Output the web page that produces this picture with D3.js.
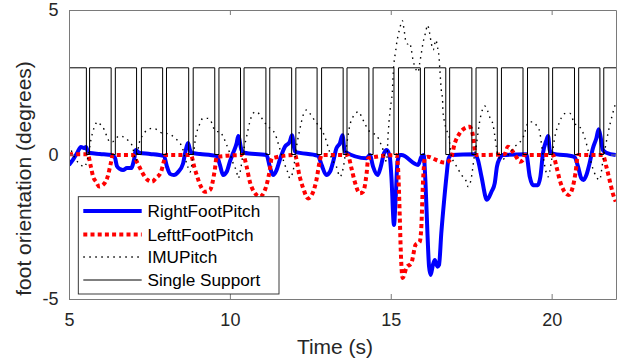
<!DOCTYPE html>
<html>
<head>
<meta charset="utf-8">
<script src="https://cdn.jsdelivr.net/npm/d3@7"></script>
<style>
  html, body { margin: 0; padding: 0; background: #fff; }
  svg { display: block; font-family: "Liberation Sans", Arial, Helvetica, sans-serif; }
</style>
</head>
<body>
<svg id="chart" width="627" height="364"></svg>
<script>
// Axis ticks
const xTicks = [5, 10, 15, 20];
const yTicks = [-5, 0, 5];
const yTickLabels = ["-5", "0", "5"];
const seriesNames = ["RightFootPitch", "LefttFootPitch", "IMUPitch", "Single Support"];

// Foot and IMU pitch, [time (s), degrees]
const rightFootPitch = [
  [5.00,-0.36],[5.12,-0.19],[5.25,0.05],[5.37,0.26],[5.47,0.22],[5.53,0.26],[5.59,0.09],[5.65,0.05],
  [5.96,0.02],[6.34,-0.02],[6.43,-0.12],[6.49,-0.40],[6.58,-0.50],[6.68,-0.54],[6.80,-0.47],[6.93,-0.47],
  [7.02,-0.19],[7.08,0.16],[7.14,0.09],[7.20,0.05],[7.52,0.02],[7.95,-0.05],[8.04,-0.40],[8.14,-0.67],
  [8.26,-0.71],[8.39,-0.61],[8.54,-0.33],[8.63,0.16],[8.70,0.40],[8.76,0.16],[8.82,0.05],[9.07,0.02],
  [9.59,-0.05],[9.69,-0.36],[9.79,-0.71],[9.90,-0.60],[10.00,-0.25],[10.10,0.05],[10.21,0.39],[10.26,0.64],
  [10.36,0.16],[10.44,0.06],[11.14,-0.02],[11.24,-0.42],[11.34,-0.71],[11.45,-0.54],[11.55,-0.19],[11.71,0.27],
  [11.86,0.44],[11.93,0.67],[12.02,0.10],[12.74,-0.05],[12.85,-0.36],[13.00,-0.71],[13.11,-0.60],[13.21,-0.25],
  [13.31,0.21],[13.42,0.39],[13.50,0.67],[13.57,0.10],[14.25,-0.13],[14.35,-0.02],[14.45,-0.42],[14.59,-0.71],
  [14.69,-0.42],[14.79,0.04],[14.87,0.16],[14.97,-0.08],[15.02,-0.77],[15.10,-2.44],[15.15,-1.57],[15.21,-0.25],
  [15.28,-0.02],[15.33,-0.02],[15.85,-0.36],[15.95,-0.08],[16.02,-0.02],[16.08,-1.00],[16.14,-2.73],[16.19,-3.88],
  [16.24,-4.17],[16.31,-3.82],[16.37,-3.65],[16.45,-3.88],[16.50,-3.82],[16.57,-2.73],[16.66,-1.57],[16.73,-0.77],
  [16.80,-0.13],[16.89,-0.02],[17.61,0.01],[17.71,-0.19],[17.82,-0.77],[17.99,-1.57],[18.13,-1.29],[18.23,-1.00],
  [18.30,-0.42],[18.39,-0.13],[18.49,-0.02],[19.21,0.01],[19.32,-0.77],[19.42,-1.06],[19.57,-1.06],[19.65,-0.77],
  [19.73,0.04],[19.84,0.50],[19.89,0.64],[19.94,0.16],[20.01,0.04],[20.71,-0.08],[20.82,-0.42],[20.92,-0.82],
  [20.99,-0.88],[21.08,-0.71],[21.18,-0.30],[21.28,0.21],[21.39,0.56],[21.46,0.87],[21.52,0.62],[21.59,0.16],
  [21.70,0.06],[21.99,-0.02]
];

const leftFootPitch = [
  [5.00,0.01],[5.58,0.01],[5.68,-0.42],[5.75,-0.77],[5.84,-0.94],[5.94,-1.11],[6.05,-1.06],[6.20,-0.77],
  [6.30,-0.30],[6.36,-0.02],[6.98,-0.02],[7.13,-0.30],[7.29,-0.65],[7.44,-0.88],[7.58,-0.94],[7.70,-0.82],
  [7.86,-0.60],[7.96,-0.19],[8.01,-0.02],[8.79,-0.02],[8.89,-0.42],[9.00,-0.82],[9.10,-1.11],[9.22,-1.29],
  [9.38,-1.23],[9.53,-0.54],[9.59,-0.08],[10.41,-0.02],[10.52,-0.42],[10.62,-0.94],[10.78,-1.34],[10.93,-1.46],
  [11.09,-1.23],[11.24,-0.54],[11.30,-0.13],[12.02,-0.02],[12.17,-0.77],[12.28,-1.17],[12.43,-1.52],[12.59,-1.29],
  [12.69,-0.88],[12.80,-0.19],[12.85,-0.02],[13.66,-0.02],[13.78,-0.48],[13.88,-0.94],[14.04,-1.34],[14.14,-1.29],
  [14.25,-0.65],[14.30,-0.13],[15.18,-0.02],[15.23,-0.54],[15.28,-2.15],[15.31,-3.30],[15.37,-4.27],[15.49,-3.91],
  [15.64,-3.76],[15.77,-3.13],[15.90,-3.02],[15.95,-2.50],[16.00,-1.00],[16.06,-0.13],[16.16,-0.08],[16.42,-0.19],
  [16.68,-0.28],[16.86,-0.17],[16.99,0.39],[17.14,0.73],[17.30,0.91],[17.45,0.96],[17.56,0.62],[17.61,0.16],
  [17.66,-0.02],[18.54,0.01],[18.64,0.27],[18.75,0.16],[18.90,-0.08],[19.01,-0.25],[19.11,-0.19],[19.16,-0.02],
  [20.04,-0.02],[20.15,-0.42],[20.25,-0.88],[20.40,-1.29],[20.53,-1.40],[20.66,-1.11],[20.74,-0.65],[20.82,-0.02],
  [21.59,-0.02],[21.70,-0.42],[21.80,-0.88],[21.90,-1.34],[21.99,-1.63]
];

const imuPitch = [
  [5.00,0.33],[5.09,0.09],[5.22,-0.19],[5.34,-0.33],[5.47,-0.43],[5.58,-0.13],[5.68,0.50],[5.79,0.96],
  [5.89,1.13],[5.99,1.02],[6.10,0.85],[6.20,0.56],[6.27,0.43],[6.36,0.44],[6.46,0.56],[6.56,0.64],
  [6.67,0.62],[6.77,0.56],[6.87,0.44],[6.98,0.26],[7.03,-0.05],[7.08,-0.22],[7.18,0.39],[7.29,0.67],
  [7.44,0.85],[7.60,0.91],[7.75,0.85],[7.91,0.73],[8.01,0.73],[8.11,0.71],[8.22,0.64],[8.32,0.54],
  [8.43,0.43],[8.53,0.21],[8.60,-0.09],[8.69,-0.42],[8.76,-0.61],[8.84,-0.19],[8.94,0.62],[9.05,1.02],
  [9.16,1.25],[9.31,1.25],[9.41,1.16],[9.48,0.95],[9.59,0.79],[9.69,0.79],[9.79,0.62],[9.90,0.33],
  [10.00,0.04],[10.10,-0.30],[10.21,-0.60],[10.26,-0.82],[10.34,-0.48],[10.41,0.04],[10.52,0.62],[10.62,1.13],
  [10.72,1.43],[10.83,1.48],[10.93,1.37],[11.03,1.19],[11.14,1.02],[11.30,0.85],[11.40,0.73],[11.50,0.39],
  [11.61,-0.02],[11.71,-0.36],[11.81,-0.65],[11.86,-0.82],[11.97,-0.54],[12.07,0.27],[12.17,0.85],[12.28,1.37],
  [12.38,1.54],[12.48,1.43],[12.59,1.25],[12.74,1.02],[12.85,0.85],[12.95,0.62],[13.05,0.27],[13.16,-0.13],
  [13.31,-0.42],[13.42,-0.77],[13.52,-0.48],[13.62,0.27],[13.73,1.02],[13.83,1.31],[13.93,1.45],[14.01,1.48],
  [14.09,1.31],[14.19,1.08],[14.30,0.85],[14.45,0.73],[14.56,0.67],[14.66,0.44],[14.76,0.16],[14.81,-0.08],
  [14.87,-0.25],[14.92,0.73],[14.97,1.43],[15.02,1.89],[15.05,2.17],[15.07,2.69],[15.10,3.16],[15.15,3.56],
  [15.19,3.90],[15.23,4.13],[15.28,4.37],[15.33,4.56],[15.36,4.63],[15.40,4.42],[15.43,4.19],[15.48,3.85],
  [15.54,3.82],[15.59,3.86],[15.64,3.62],[15.69,3.27],[15.75,3.04],[15.85,2.85],[15.90,3.16],[15.95,3.50],
  [16.00,3.85],[16.09,4.25],[16.14,4.48],[16.21,4.19],[16.26,3.85],[16.32,3.62],[16.40,3.96],[16.45,3.73],
  [16.50,3.38],[16.52,3.04],[16.54,2.69],[16.57,2.23],[16.61,1.89],[16.62,1.54],[16.68,1.08],[16.73,0.85],
  [16.81,0.67],[16.83,0.39],[16.89,-0.08],[16.99,-0.30],[17.09,-0.50],[17.20,-0.71],[17.35,-0.94],[17.40,-1.11],
  [17.48,-0.94],[17.54,-0.54],[17.58,-0.19],[17.66,0.33],[17.71,0.74],[17.76,1.12],[17.82,1.44],[17.92,1.68],
  [18.02,1.48],[18.07,1.31],[18.18,1.02],[18.23,0.67],[18.28,0.27],[18.33,-0.02],[18.44,-0.19],[18.54,-0.13],
  [18.64,-0.02],[18.85,0.27],[19.06,0.50],[19.16,0.73],[19.21,0.96],[19.32,1.13],[19.42,1.13],[19.52,1.02],
  [19.63,0.79],[19.68,0.39],[19.73,-0.02],[19.78,-0.36],[19.89,-0.77],[19.99,-0.25],[20.09,0.56],[20.25,1.13],
  [20.35,1.37],[20.46,1.43],[20.56,1.43],[20.71,1.08],[20.87,0.96],[21.02,0.62],[21.13,0.16],[21.28,-0.48],
  [21.49,-0.88],[21.59,-0.25],[21.75,0.73],[21.90,1.43],[21.99,1.78]
];

// Single support phases: signal is 3 while on one foot, 0 during double support
const supportLevel = 3;
const ssFall = [5.54, 6.31, 7.10, 7.91, 8.72, 9.53, 10.33, 11.12, 11.92, 12.71, 13.52,
                14.32, 15.10, 15.92, 16.71, 17.52, 18.31, 19.11, 19.91, 20.71, 21.50];
const ssRise = [5.64, 6.44, 7.25, 8.03, 8.86, 9.66, 10.44, 11.24, 12.05, 12.85, 13.64,
                14.45, 15.24, 16.05, 16.83, 17.65, 18.44, 19.25, 20.03, 20.84, 21.62];

// ---- layout ----
const plot = { left: 69, top: 10, right: 616, bottom: 299 };
const ink = "#262626";

const x = d3.scaleLinear().domain([5, 22]).range([plot.left, plot.right]);
const y = d3.scaleLinear().domain([-5, 5]).range([plot.bottom, plot.top]);

const svg = d3.select("#chart");
svg.append("rect").attr("width", 627).attr("height", 364).attr("fill", "#fff");

svg.append("defs").append("clipPath").attr("id", "plot-clip")
  .append("rect")
  .attr("x", plot.left).attr("y", plot.top)
  .attr("width", plot.right - plot.left).attr("height", plot.bottom - plot.top);

// Build the square wave from the phase boundaries
const supportSignal = [[5, supportLevel]];
ssFall.forEach((tf, i) => {
  supportSignal.push([tf, supportLevel], [tf, 0], [ssRise[i], 0], [ssRise[i], supportLevel]);
});
supportSignal.push([22, supportLevel]);

const smooth = d3.line().x(d => x(d[0])).y(d => y(d[1])).curve(d3.curveMonotoneX);
const straight = d3.line().x(d => x(d[0])).y(d => y(d[1]));

const styles = [
  { stroke: "#0000ff", width: 4, dash: null },
  { stroke: "#ff0000", width: 4, dash: "4,3.2" },
  { stroke: "#000000", width: 1.4, dash: "1.5,4.5" },
  { stroke: "#000000", width: 1, dash: null }
];

const g = svg.append("g").attr("clip-path", "url(#plot-clip)");
[rightFootPitch, leftFootPitch, imuPitch].forEach((data, i) => {
  g.append("path")
    .attr("d", smooth(data))
    .attr("fill", "none")
    .attr("stroke", styles[i].stroke)
    .attr("stroke-width", styles[i].width)
    .attr("stroke-dasharray", styles[i].dash)
    .attr("stroke-linejoin", "round");
});
g.append("path")
  .attr("d", straight(supportSignal))
  .attr("fill", "none")
  .attr("stroke", styles[3].stroke)
  .attr("stroke-width", styles[3].width);

// ---- axes (box with inward ticks) ----
function styleAxis(sel) {
  sel.select(".domain").attr("stroke", "#7a7a7a").attr("stroke-width", 1);
  sel.selectAll(".tick line").attr("stroke", "#7a7a7a").attr("stroke-width", 1);
  sel.selectAll(".tick text").attr("fill", ink).attr("font-size", 18)
    .attr("font-family", "'Liberation Sans', Arial, Helvetica, sans-serif");
}

svg.append("g").attr("transform", `translate(0,${plot.bottom})`)
  .call(d3.axisBottom(x).tickValues(xTicks).tickSizeInner(-5).tickSizeOuter(0).tickPadding(14))
  .call(styleAxis);
svg.append("g").attr("transform", `translate(0,${plot.top})`)
  .call(d3.axisTop(x).tickValues(xTicks).tickSizeInner(-5).tickSizeOuter(0).tickFormat(""))
  .call(styleAxis);
svg.append("g").attr("transform", `translate(${plot.left},0)`)
  .call(d3.axisLeft(y).tickValues(yTicks).tickSizeInner(-5).tickSizeOuter(0).tickPadding(10.5)
    .tickFormat((d, i) => yTickLabels[i]))
  .call(styleAxis);
svg.append("g").attr("transform", `translate(${plot.right},0)`)
  .call(d3.axisRight(y).tickValues(yTicks).tickSizeInner(-5).tickSizeOuter(0).tickFormat(""))
  .call(styleAxis);

// ---- axis titles ----
svg.append("text")
  .attr("x", 335).attr("y", 354)
  .attr("text-anchor", "middle").attr("font-size", 21).attr("fill", ink)
  .text("Time (s)");
svg.append("text")
  .attr("transform", "translate(31,178.5) rotate(-90)")
  .attr("text-anchor", "middle").attr("font-size", 21).attr("fill", ink)
  .text("foot orientation (degrees)");

// ---- legend ----
const legend = svg.append("g");
legend.append("rect")
  .attr("x", 78.3).attr("y", 196.7).attr("width", 200.7).attr("height", 97.3)
  .attr("fill", "#fff").attr("stroke", ink).attr("stroke-width", 0.9);
const rowY = [211, 234.5, 257, 280];
seriesNames.forEach((name, i) => {
  legend.append("line")
    .attr("x1", 83.3).attr("x2", 141.7).attr("y1", rowY[i]).attr("y2", rowY[i])
    .attr("stroke", styles[i].stroke)
    .attr("stroke-width", styles[i].width)
    .attr("stroke-dasharray", styles[i].dash);
  legend.append("text")
    .attr("x", 147.5).attr("y", rowY[i] + 6.3)
    .attr("font-size", 17.2).attr("fill", "#000")
    .text(name);
});
</script>
</body>
</html>
